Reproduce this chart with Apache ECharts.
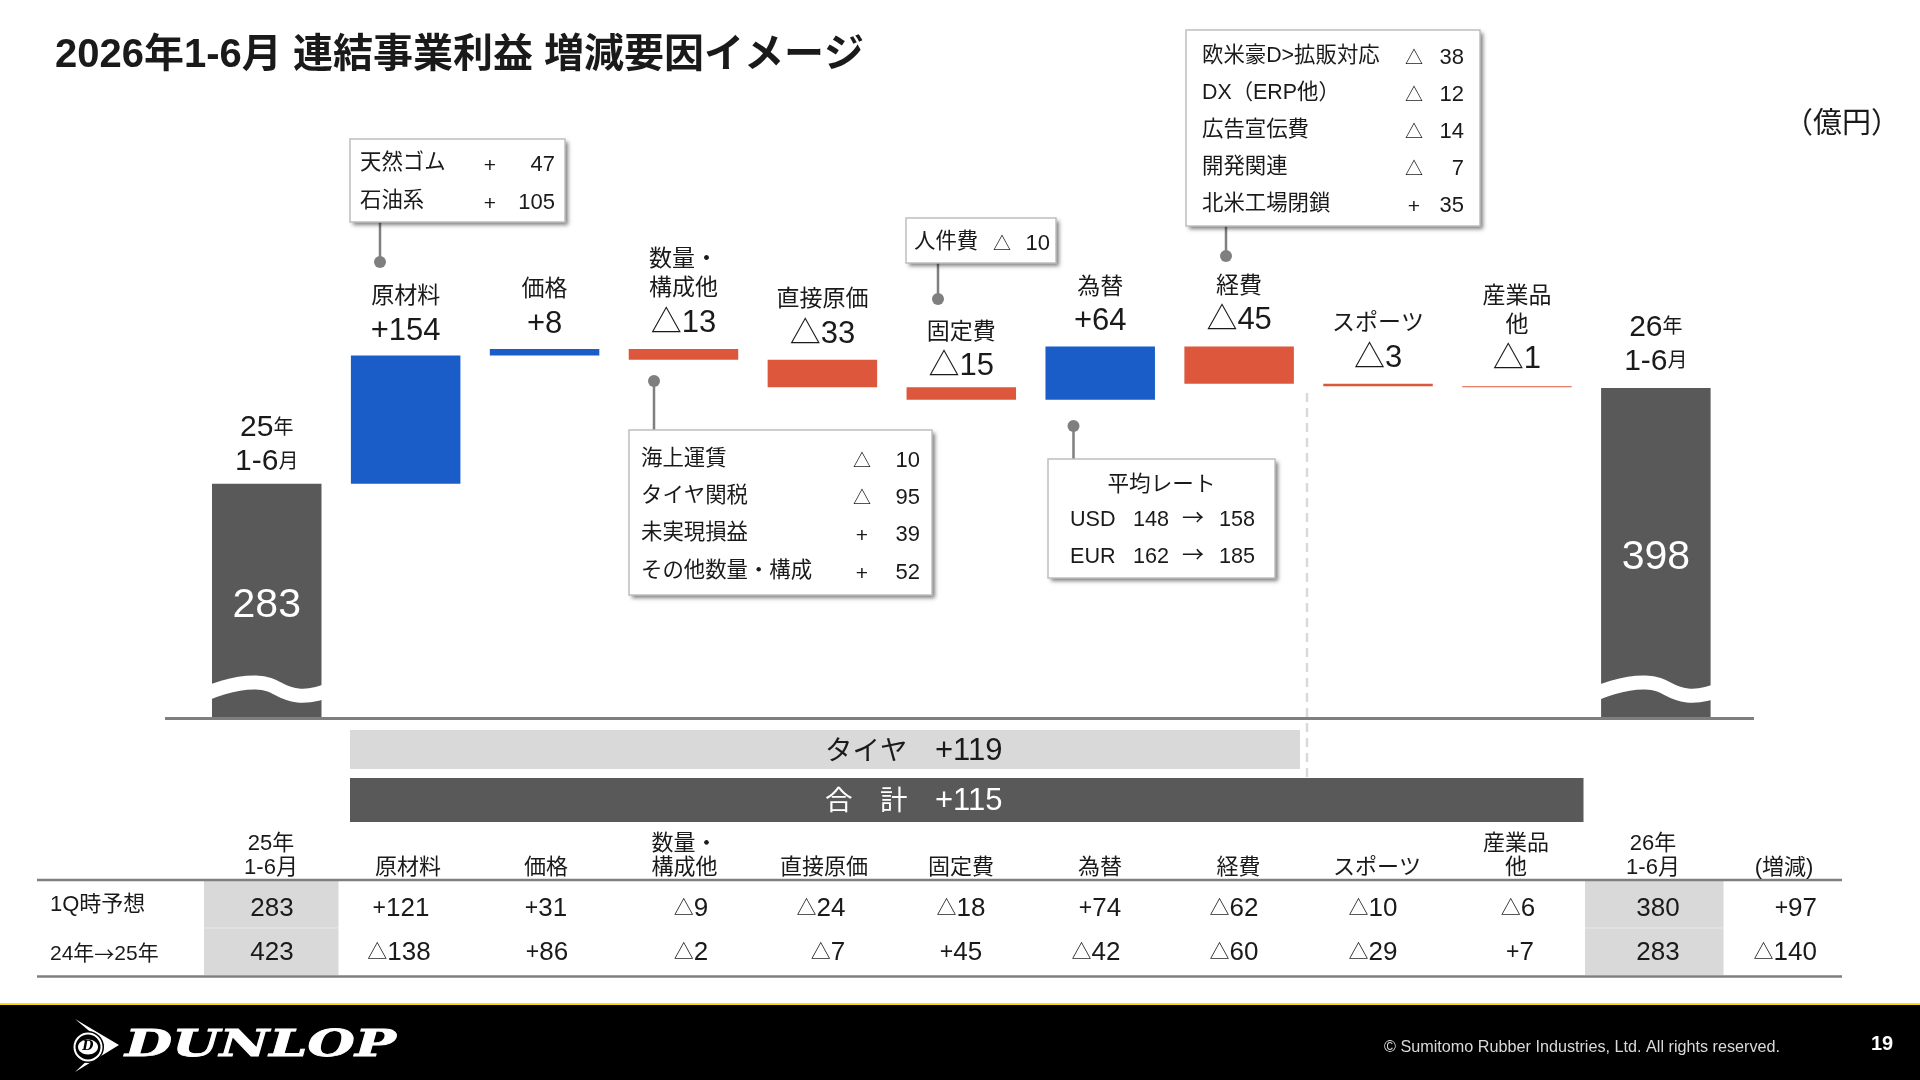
<!DOCTYPE html>
<html>
<head>
<meta charset="utf-8">
<style>html,body{margin:0;padding:0;background:#fff}#chart{width:1920px;height:1080px}</style>
<script src="https://cdn.jsdelivr.net/npm/echarts@6/dist/echarts.min.js"></script>
</head>
<body>
<div id="chart"></div>
<script>
// waterfall
const categories = ["25年\n1-6月", "原材料", "価格", "数量・\n構成他", "直接原価", "固定費", "為替", "経費", "スポーツ", "産業品\n他", "26年\n1-6月"];
const baseValues = [null, 283, 437, 432, 399, 384, 384, 403, 400, 399, null];
const totalValues = [283, null, null, null, null, null, null, null, null, null, 398];
const upValues = [null, 154, 8, null, null, null, 64, null, null, null, null];
const downValues = [null, null, null, 13, 33, 15, null, 45, 3, 1, null];
const changeText = ["", "+154", "+8", "△13", "△33", "△15", "+64", "△45", "△3", "△1", ""];

// callout boxes
const materialRows = [["天然ゴム", "+", "47"], ["石油系", "+", "105"]];
const volumeRows = [["海上運賃", "△", "10"], ["タイヤ関税", "△", "95"], ["未実現損益", "+", "39"], ["その他数量・構成", "+", "52"]];
const fixedRows = [["人件費", "△", "10"]];
const expenseRows = [["欧米豪D>拡販対応", "△", "38"], ["DX（ERP他）", "△", "12"], ["広告宣伝費", "△", "14"], ["開発関連", "△", "7"], ["北米工場閉鎖", "+", "35"]];
const rateRows = [["USD", "148", "158"], ["EUR", "162", "185"]];

// table
const tableHeader = ["25年\n1-6月", "原材料", "価格", "数量・\n構成他", "直接原価", "固定費", "為替", "経費", "スポーツ", "産業品\n他", "26年\n1-6月", "(増減)"];
const rowForecast = ["283", "+121", "+31", "△9", "△24", "△18", "+74", "△62", "△10", "△6", "380", "+97"];
const rowPrevYear = ["423", "△138", "+86", "△2", "△7", "+45", "△42", "△60", "△29", "+7", "283", "△140"];

const FONT = '"Liberation Sans","Noto Sans CJK JP",sans-serif';
const DARK = "#595959", LINE = "#7f7f7f", PALE = "#d9d9d9", INK = "#1a1a1a";

const g = [];
const text = (x, y, t, size, align, fill, extra) => g.push(Object.assign({
    type: "text", x: x, y: y + 2, z: 20,
    style: { text: t, font: size + "px " + FONT, fill: fill || INK, textAlign: align || "left", textVerticalAlign: "middle" }
}, extra));
const rect = (x, y, w, h, fill, extra) => g.push(Object.assign({
    type: "rect", z: 5, shape: { x: x, y: y, width: w, height: h }, style: { fill: fill }
}, extra));
const line = (x1, y1, x2, y2, color, width, extra) => g.push(Object.assign({
    type: "line", z: 6, shape: { x1: x1, y1: y1, x2: x2, y2: y2 }, style: { stroke: color, lineWidth: width }
}, extra));

// shadow first, border on its own so the stroke casts nothing inside the box
const box = (x, y, w, h) => {
    rect(x, y, w, h, "#fff", {
        z: 8,
        style: { fill: "#fff", shadowBlur: 4, shadowColor: "rgba(0,0,0,0.5)", shadowOffsetX: 3, shadowOffsetY: 3 }
    });
    rect(x, y, w, h, "none", { z: 9, style: { fill: "none", stroke: "#bfbfbf", lineWidth: 1.5 } });
};
const pin = (x, y1, y2) => {
    line(x, y1, x, y2, LINE, 2.5);
    g.push({ type: "circle", z: 7, shape: { cx: x, cy: y1, r: 6 }, style: { fill: LINE } });
};
const rows = (list, ys, xLeft, xSym, xRight) => list.forEach((r, i) => {
    text(xLeft, ys[i] - 1, r[0], 21.4);
    text(xSym, ys[i] + 2, r[1], r[1] === "+" ? 21 : 18, "center");
    text(xRight, ys[i] + 1, r[2], 22, "right");
});
// table cell: the △ and + are set smaller than the digits
const cell = (x, y, v, align) => {
    const mark = /^[△+]/.test(v);
    g.push({
        type: "text", x: x, y: y + 2, z: 20,
        style: {
            text: mark ? "{t|" + v[0] + "}{d|" + v.slice(1) + "}" : "{d|" + v + "}",
            align: align, verticalAlign: "middle", textAlign: align, textVerticalAlign: "middle",
            rich: {
                t: { fontFamily: FONT, fontSize: v[0] === "△" ? 20 : 23, fill: INK },
                d: { fontFamily: FONT, fontSize: 26, fill: INK }
            }
        }
    });
};

// unit
text(1842, 123, "（億円）", 29, "center");

// callouts
pin(380, 262, 222); box(350, 139, 215, 83);
rows(materialRows, [162, 200], 360, 490, 555);
pin(654, 381, 430); box(629, 430, 303, 165);
rows(volumeRows, [458, 495, 532, 570], 641, 862, 920);
pin(938, 299, 263); box(906, 218, 150, 45);
rows(fixedRows, [241], 914, 1002, 1050);
pin(1226, 256, 226); box(1186, 30, 294, 196);
rows(expenseRows, [55, 92, 129, 166, 203], 1202, 1414, 1464);
pin(1073.5, 426, 459); box(1048, 459, 227, 119);
text(1161.5, 483, "平均レート", 21.6, "center");
rateRows.forEach((r, i) => {
    const y = [518, 555][i];
    text(1070, y, r[0], 21.6);
    text(1133, y, r[1], 21.6);
    g.push({
        type: "text", x: 1193, y: y - 1, z: 20,
        style: { text: "→", font: '22px "Noto Sans CJK JP"', fill: INK, textAlign: "center", textVerticalAlign: "middle" }
    });
    text(1255, y, r[2], 21.6, "right");
});

// wave breaks over the two total bars
[0, 1389.5].forEach(dx => g.push({
    type: "polyline", z: 9,
    shape: { points: [[208 + dx, 693], [256 + dx, 682.5], [298 + dx, 695.5], [326 + dx, 691]], smooth: 0.5 },
    style: { stroke: "#fff", lineWidth: 14, fill: null }
}));

// baseline, dashed divider, summary bars
rect(165, 717, 1589, 3, LINE);
line(1307, 393, 1307, 778, PALE, 2.5, { style: { stroke: PALE, lineWidth: 2.5, lineDash: [9, 6] } });
rect(350, 730, 950, 39, PALE, { z: 7 });
rect(350, 778, 1233.5, 44, DARK, { z: 7 });
text(825, 750, "タイヤ", 27.5);
text(935, 749.5, "+119", 31);
text(825, 800, "合　計", 27.5, "left", "#fff");
text(935, 799.5, "+115", 31, "left", "#fff");

// table
const colHead = [271, 408, 546, 684.5, 824, 961, 1100, 1238.5, 1377, 1516, 1653, 1784];
const colVal = [272, 401, 546, 691, 821, 961, 1100, 1234, 1373, 1518, 1658, 1817];
const colVal2 = [272, 399, 547, 691, 828, 961, 1096, 1234, 1373, 1520, 1658, 1817];
rect(204, 881, 134.5, 94, "#d9d9d9");
rect(1585, 881, 138.5, 94, "#d9d9d9");
line(204, 928, 338.5, 928, "#e8e8e8", 1);
line(1585, 928, 1723.5, 928, "#e8e8e8", 1);
line(37, 880, 1842, 880, LINE, 2.5);
line(37, 976.5, 1842, 976.5, LINE, 2.5);
tableHeader.forEach((h, i) => {
    const parts = h.split("\n");
    if (parts.length > 1) text(colHead[i], 842, parts[0], 22, "center");
    text(colHead[i], 866, parts[parts.length - 1], 22, "center");
});
rowForecast.forEach((v, i) => cell(colVal[i], 907, v, i === 11 ? "right" : "center"));
rowPrevYear.forEach((v, i) => cell(colVal2[i], 951, v, i === 11 ? "right" : "center"));
text(50, 903, "1Q時予想", 22);
g.push({
    type: "text", x: 50, y: 954, z: 20,
    style: {
        text: "{a|24年}{b|→}{a|25年}",
        align: "left", verticalAlign: "middle", textAlign: "left", textVerticalAlign: "middle",
        rich: {
            a: { fontFamily: FONT, fontSize: 21, fill: INK },
            b: { fontFamily: '"Noto Sans CJK JP"', fontSize: 20, fill: INK }
        }
    }
});

// footer
rect(0, 1003, 1920, 77, "#000", { z: 30 });
rect(0, 1003, 1920, 2, "#ffdc00", { z: 31 });
g.push({ type: "polygon", z: 31, shape: { points: [[75, 1019], [119, 1045], [75, 1072], [94, 1054], [104, 1045], [94, 1035]] }, style: { fill: "#fff" } });
g.push({ type: "circle", z: 32, shape: { cx: 88, cy: 1047, r: 16 }, style: { fill: "#000" } });
g.push({ type: "circle", z: 33, shape: { cx: 88, cy: 1047, r: 13.5 }, style: { fill: "#000", stroke: "#fff", lineWidth: 2 } });
g.push({ type: "ellipse", z: 33, shape: { cx: 88, cy: 1047, rx: 10, ry: 7.5 }, style: { fill: "#fff" } });
g.push({ type: "text", z: 34, x: 88, y: 1047, style: { text: "D", font: 'italic bold 13px "DejaVu Serif"', fill: "#000", textAlign: "center", textVerticalAlign: "middle" } });
g.push({
    type: "text", z: 34, x: 125, y: 1046, scaleX: 1.47,
    style: { text: "DUNLOP", font: 'italic bold 37px "DejaVu Serif"', fill: "#fff", stroke: "#fff", lineWidth: 0.8, textAlign: "left", textVerticalAlign: "middle" }
});
text(1384, 1046, "© Sumitomo Rubber Industries, Ltd. All rights reserved.", 16.2, "left", "#d9d9d9", { z: 34 });
text(1882, 1042, "19", 20, "center", "#fff", { z: 34, style: { text: "19", font: "bold 20px " + FONT, fill: "#fff", textAlign: "center", textVerticalAlign: "middle" } });

// label text sitting on top of every bar
const labelGap = [4, 4, 4, 5, 5, 0, 4, 5, 5, 6, 9];
const tops = categories.map((c, i) => (baseValues[i] || 0) + (totalValues[i] || upValues[i] || downValues[i]));
const topLabel = i => {
    const lines = categories[i].split("\n");
    if (!changeText[i]) {
        return lines.map(l => "{y|" + l.slice(0, -1) + "}{s|" + l.slice(-1) + "}").join("\n");
    }
    return lines.map(l => "{n|" + l + "}").join("\n") + "\n{v|" + changeText[i] + "}";
};

const chart = echarts.init(document.getElementById("chart"));
chart.setOption({
    animation: false,
    title: {
        text: "2026年1-6月 連結事業利益 増減要因イメージ",
        left: 50, top: 31,
        textStyle: { fontFamily: FONT, fontSize: 40, fontWeight: "bold", color: "#1a1a1a" }
    },
    grid: { left: 197.3, width: 1528, top: 220, height: 499 },
    xAxis: { type: "category", data: categories, show: false },
    yAxis: { type: "value", min: 0, max: 600, show: false },
    series: [
        { type: "bar", stack: "w", barWidth: 109.5, data: baseValues, itemStyle: { color: "transparent" } },
        {
            type: "bar", stack: "w", data: totalValues, itemStyle: { color: DARK },
            label: { show: true, position: "inside", offset: [0, 4], color: "#fff", fontFamily: FONT, fontSize: 41 }
        },
        { type: "bar", stack: "w", data: upValues, itemStyle: { color: "#1a5dc8" } },
        { type: "bar", stack: "w", data: downValues, itemStyle: { color: "#dc573c" } },
        {
            type: "scatter", symbolSize: 1, itemStyle: { color: "transparent", opacity: 1 },
            data: tops.map((v, i) => ({
                value: v,
                label: { show: true, position: "top", distance: labelGap[i], formatter: topLabel(i) }
            })),
            label: {
                fontFamily: FONT, color: INK, align: "center",
                rich: {
                    n: { fontFamily: FONT, fontSize: 23, lineHeight: 29, color: INK },
                    v: { fontFamily: FONT, fontSize: 31, lineHeight: 40, color: INK },
                    y: { fontFamily: FONT, fontSize: 30, lineHeight: 34, color: INK },
                    s: { fontFamily: FONT, fontSize: 20, lineHeight: 34, color: INK }
                }
            }
        }
    ],
    graphic: { elements: g }
});
</script>
</body>
</html>
